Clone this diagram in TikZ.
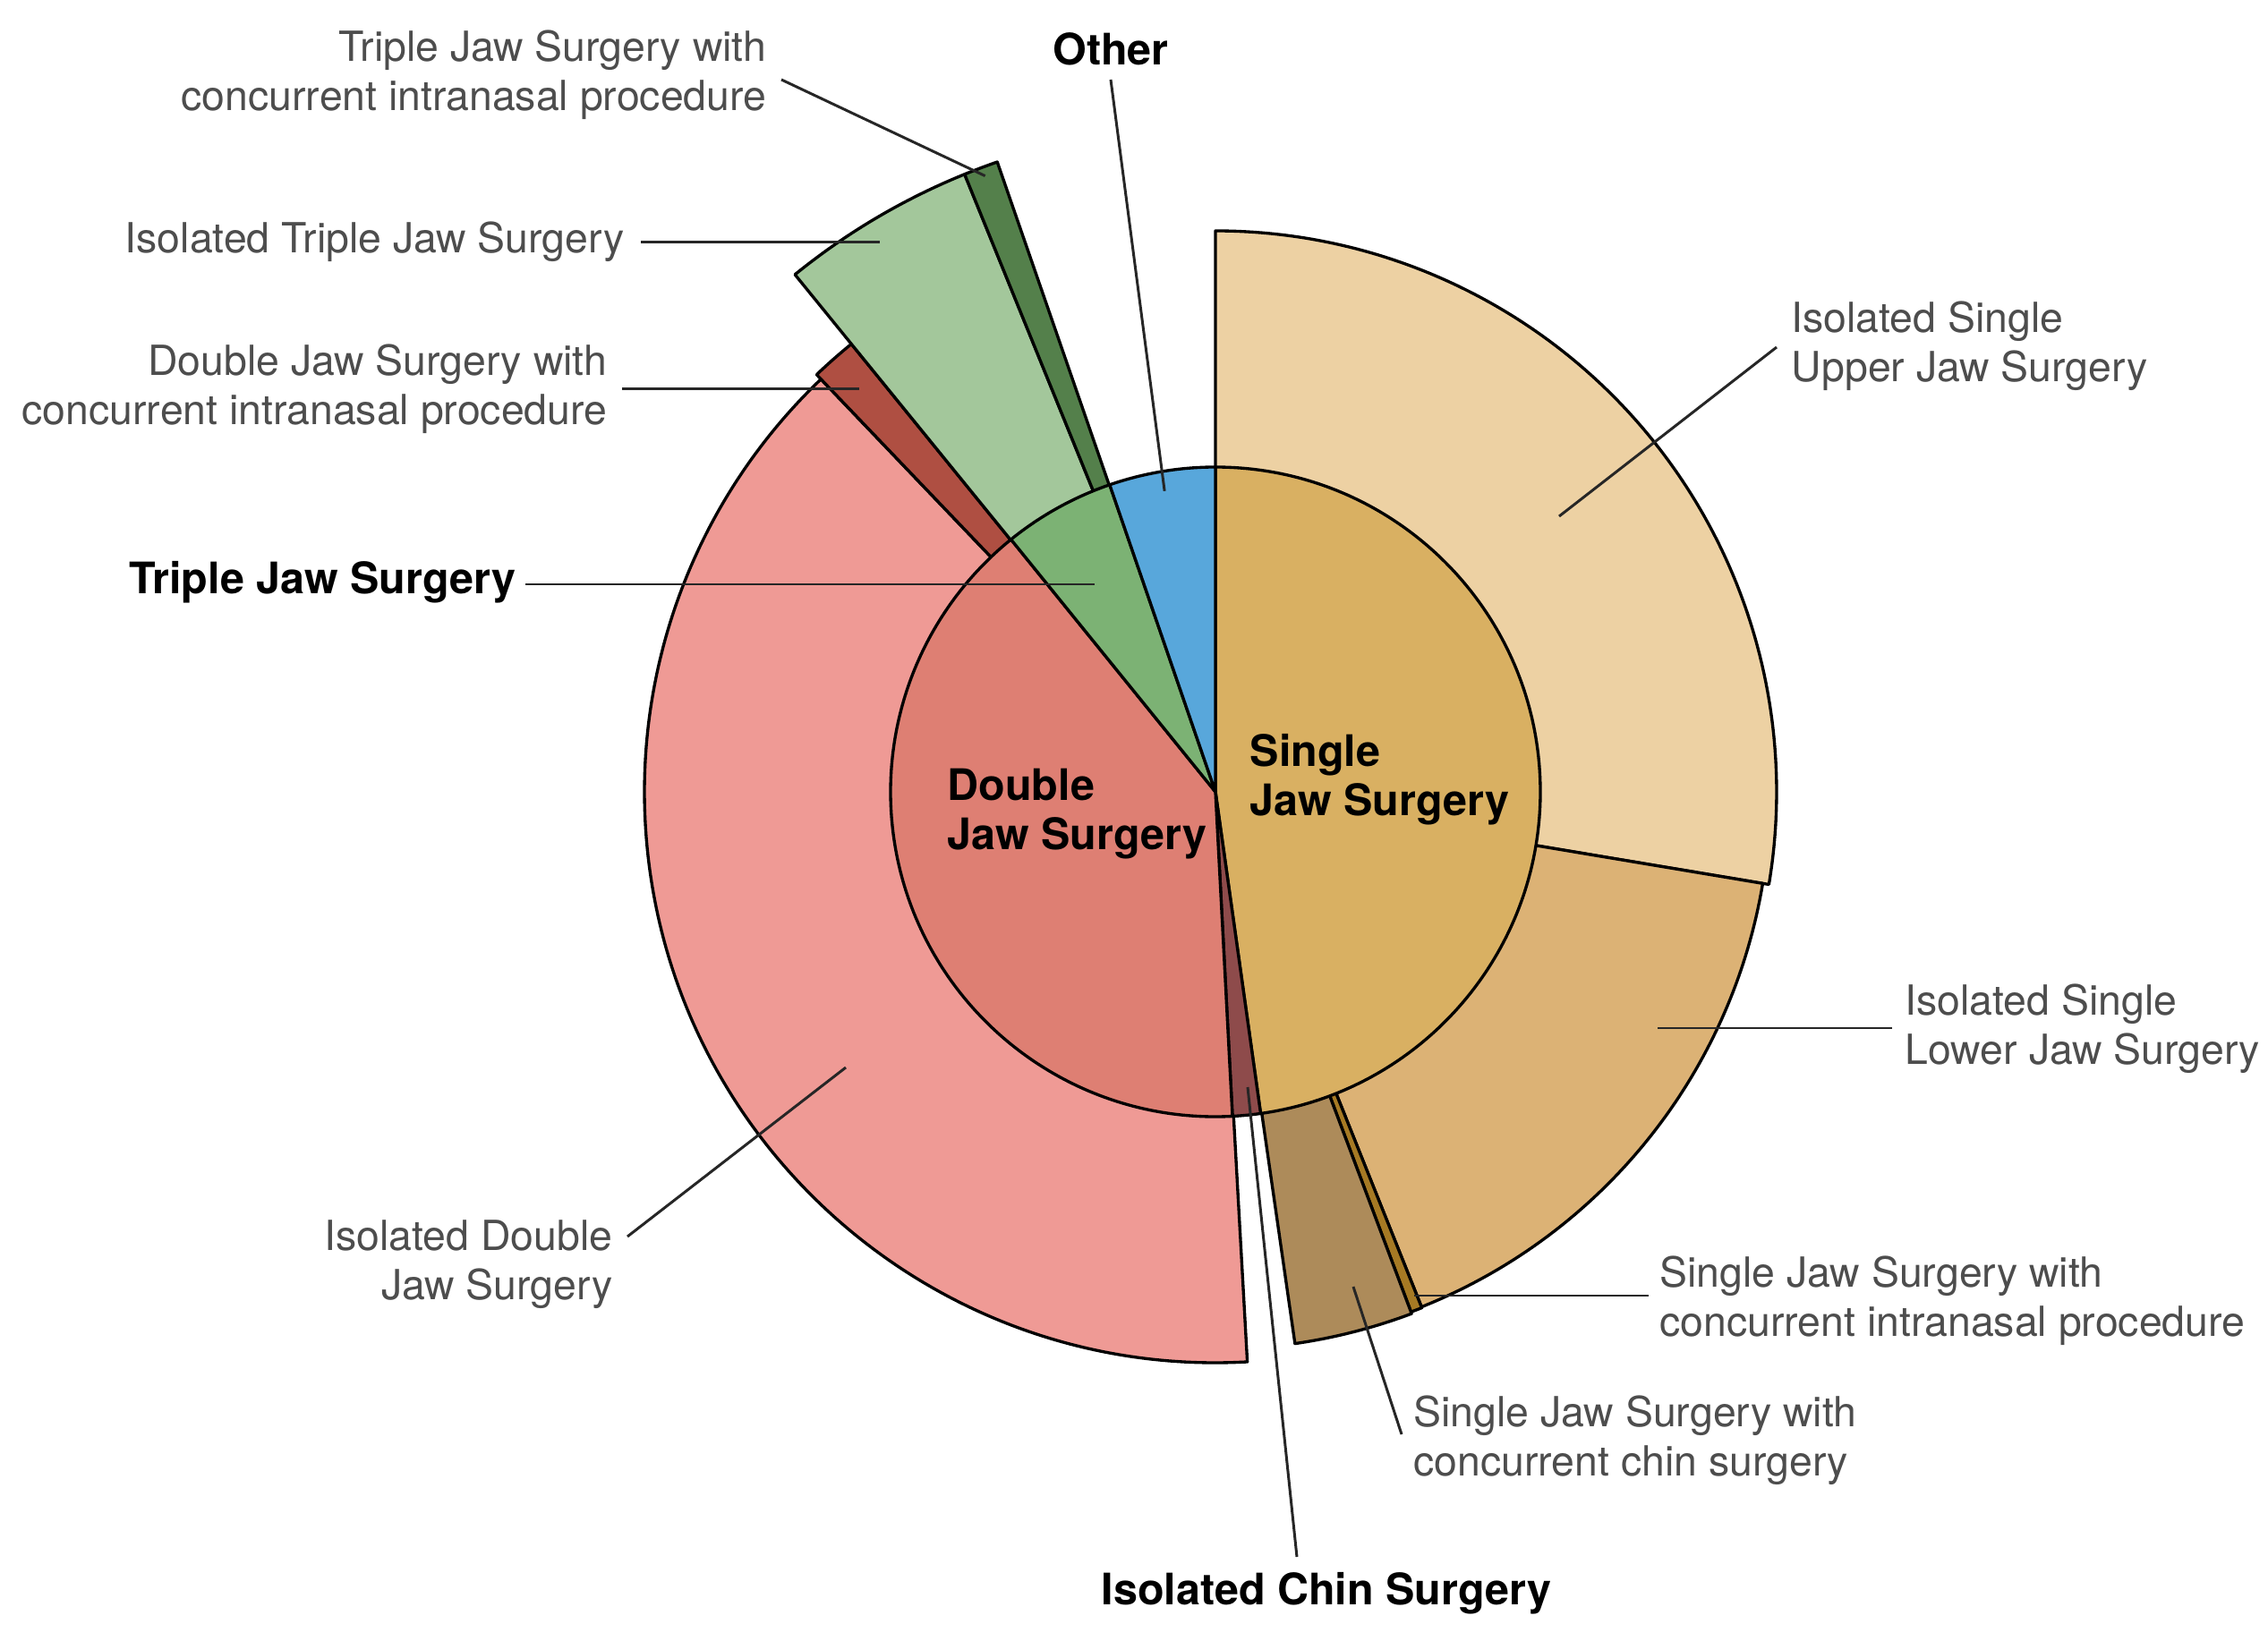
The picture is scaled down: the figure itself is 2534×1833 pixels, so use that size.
\documentclass[tikz,border=0pt]{standalone}
\usepackage{fontspec}
\setmainfont{TeX Gyre Heros}
\usetikzlibrary{calc}
\definecolor{upperC}{HTML}{EDD1A3}
\definecolor{lowerC}{HTML}{DCB275}
\definecolor{snasC}{HTML}{A67A24}
\definecolor{schinC}{HTML}{AD8B5A}
\definecolor{singleC}{HTML}{D9B062}
\definecolor{chinC}{HTML}{8E4B4B}
\definecolor{doubleC}{HTML}{DE7F73}
\definecolor{pinkC}{HTML}{EF9A95}
\definecolor{dnasC}{HTML}{AF4F42}
\definecolor{tripleC}{HTML}{7CB274}
\definecolor{ltgreenC}{HTML}{A3C79B}
\definecolor{dkgreenC}{HTML}{54804B}
\definecolor{otherC}{HTML}{58A7DB}
\definecolor{labelgray}{HTML}{4D4D4D}
\newcommand\pieseg[4]{%
  \filldraw[seg,fill=#1] (C) -- +(#2:#4) arc[start angle=#2,end angle=#3,radius=#4] -- cycle;}
\begin{document}
\begin{tikzpicture}[x=0.1mm,y=0.1mm,
  seg/.style={draw=black,line width=0.95pt,line join=round},
  leader/.style={draw=black!85,line width=0.85pt},
  lbl/.style={inner sep=0pt,text=labelgray,font=\fontsize{13.2}{15.6}\selectfont},
  blbl/.style={inner sep=0pt,text=black,font=\fontsize{13.8}{15.6}\selectfont\bfseries}]
\useasboundingbox[fill=white] (0,0) rectangle (2534,1833);
\coordinate (C) at (1358,948);

% outer ring
\pieseg{upperC}{90}{-9.5}{627}
\pieseg{lowerC}{-9.5}{-68.2}{620}
\pieseg{snasC}{-68.2}{-69.4}{621}
\pieseg{schinC}{-69.4}{-81.8}{623}
\pieseg{pinkC}{-86.8}{-226.3}{638}
\pieseg{dnasC}{133.7}{129.1}{645}
\pieseg{ltgreenC}{129.1}{112.1}{745}
\pieseg{dkgreenC}{112.1}{109.1}{745}

% inner ring
\pieseg{singleC}{90}{-82}{363}
\pieseg{chinC}{-82}{-87}{363}
\pieseg{doubleC}{-87}{-231}{363}
\pieseg{tripleC}{129}{109}{363}
\pieseg{otherC}{109}{90}{363}

% leader end points
\coordinate (e1) at ($(C)+(110.5:735)$);
\coordinate (e2) at ($(C)+(99.6:341)$);
\coordinate (e3) at (983,1562);
\coordinate (e4) at (960,1398);
\coordinate (e5) at (1223,1180);
\coordinate (e6) at (1742,1256);
\coordinate (e7) at (1852,684);
\coordinate (e8) at (1580,385);
\coordinate (e9) at (1512,395);
\coordinate (e10) at (1394,618);
\coordinate (e11) at (945,640);

% labels
\node[lbl,anchor=east,align=right] (tjn) at (857,1749) {Triple Jaw Surgery with\\concurrent intranasal procedure};
\node[blbl] (oth) at (1241,1778) {Other};
\node[lbl,anchor=east] (itj) at (698,1563) {Isolated Triple Jaw Surgery};
\node[lbl,anchor=east,align=right] (djn) at (679,1398) {Double Jaw Surgery with\\concurrent intranasal procedure};
\node[blbl,anchor=east] (tjs) at (577,1182) {Triple Jaw Surgery};
\node[lbl,anchor=west,align=left] (usj) at (2001,1446) {Isolated Single\\Upper Jaw Surgery};
\node[lbl,anchor=west,align=left] (lsj) at (2128,683) {Isolated Single\\Lower Jaw Surgery};
\node[lbl,anchor=west,align=left] (sjn) at (1854,379) {Single Jaw Surgery with\\concurrent intranasal procedure};
\node[lbl,anchor=west,align=left] (sjc) at (1579,223) {Single Jaw Surgery with\\concurrent chin surgery};
\node[blbl] (ics) at (1482,52) {Isolated Chin Surgery};
\node[lbl,anchor=east,align=right] (idj) at (685,420) {Isolated Double\\Jaw Surgery};
\node[blbl,anchor=west,align=left] (sj) at (1396,962) {Single\\Jaw Surgery};
\node[blbl,anchor=west,align=left] (dj) at (1058,923) {Double\\Jaw Surgery};

% leaders
\draw[leader] (tjn.east) ++(16,-5) -- (e1);
\draw[leader] (oth.center) ++(0,-34) -- (e2);
\draw[leader] (itj.east) ++(18,-1) -- (e3);
\draw[leader] (djn.east) ++(16,0) -- (e4);
\draw[leader] (tjs.east) ++(10,-2) -- (e5);
\draw[leader] (usj.west) ++(-16,-1) -- (e6);
\draw[leader] (lsj.west) ++(-14,1) -- (e7);
\draw[leader] (sjn.west) ++(-12,6) -- (e8);
\draw[leader] (sjc.west) ++(-13,7) -- (e9);
\draw[leader] (ics.center) ++(-33,41) -- (e10);
\draw[leader] (idj.east) ++(16,31) -- (e11);
\end{tikzpicture}
\end{document}
